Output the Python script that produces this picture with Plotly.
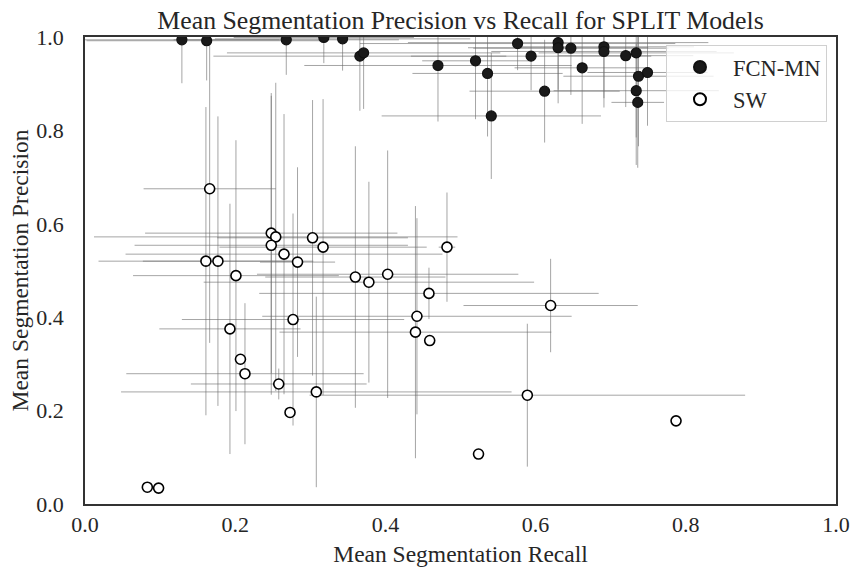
import plotly.graph_objects as go

# ---- data ----
sw_x = [0.083, 0.098, 0.166, 0.248, 0.254, 0.248, 0.303, 0.317, 0.265, 0.283,
        0.161, 0.177, 0.201, 0.360, 0.378, 0.277, 0.193, 0.207, 0.213, 0.258,
        0.308, 0.273, 0.524, 0.482, 0.403, 0.458, 0.620, 0.442, 0.440, 0.459,
        0.589, 0.787]
sw_y = [0.036, 0.034, 0.675, 0.580, 0.572, 0.554, 0.570, 0.550, 0.535, 0.518,
        0.520, 0.520, 0.489, 0.486, 0.475, 0.395, 0.375, 0.310, 0.279, 0.257,
        0.240, 0.196, 0.107, 0.550, 0.492, 0.451, 0.425, 0.402, 0.368, 0.350,
        0.233, 0.178]
sw_xerr = [0.0, 0.0, 0.088, 0.168, 0.242, 0.182, 0.127, 0.138, 0.211, 0.05,
           0.143, 0.10, 0.137, 0.12, 0.22, 0.148, 0.094, 0.0, 0.158, 0.117,
           0.26, 0.0, 0.0, 0.011, 0.174, 0.226, 0.116, 0.206, 0.181, 0.0,
           0.29, 0.0]
sw_yerr = [0.0, 0.0, 0.33, 0.30, 0.33, 0.32, 0.295, 0.317, 0.30, 0.203,
           0.33, 0.31, 0.29, 0.28, 0.215, 0.227, 0.268, 0.0, 0.151, 0.033,
           0.204, 0.0, 0.0, 0.117, 0.265, 0.055, 0.10, 0.21, 0.27, 0.0,
           0.153, 0.0]

fcn_x = [0.129, 0.162, 0.268, 0.318, 0.343, 0.366, 0.371, 0.470, 0.520, 0.536,
         0.541, 0.576, 0.594, 0.612, 0.630, 0.630, 0.647, 0.662, 0.691, 0.691,
         0.720, 0.734, 0.737, 0.749, 0.734, 0.736]
fcn_y = [0.994, 0.992, 0.994, 0.999, 0.996, 0.959, 0.966, 0.939, 0.949, 0.922,
         0.831, 0.986, 0.959, 0.884, 0.988, 0.977, 0.976, 0.934, 0.979, 0.969,
         0.960, 0.966, 0.916, 0.924, 0.885, 0.860]
fcn_xerr = [0.13, 0.16, 0.15, 0.12, 0.17, 0.195, 0.182, 0.178, 0.071, 0.10,
            0.146, 0.21, 0.16, 0.10, 0.20, 0.12, 0.13, 0.09, 0.12, 0.15,
            0.09, 0.13, 0.10, 0.08, 0.11, 0.035]
fcn_yerr = [0.093, 0.085, 0.075, 0.055, 0.068, 0.117, 0.12, 0.12, 0.125, 0.135,
            0.135, 0.057, 0.073, 0.11, 0.13, 0.09, 0.10, 0.12, 0.13, 0.10,
            0.11, 0.24, 0.15, 0.114, 0.10, 0.14]

x_ticks = [0.0, 0.2, 0.4, 0.6, 0.8, 1.0]
y_ticks = [0.0, 0.2, 0.4, 0.6, 0.8, 1.0]

FONT = "Liberation Serif, Times New Roman, serif"
ERR_COLOR = "rgba(105,105,105,0.6)"

fig = go.Figure()

# error bars first (so every marker sits above every bar)
for xs, ys, xe, ye in [(fcn_x, fcn_y, fcn_xerr, fcn_yerr), (sw_x, sw_y, sw_xerr, sw_yerr)]:
    fig.add_trace(go.Scatter(
        x=xs, y=ys, mode="markers",
        marker=dict(size=1, opacity=0),
        error_x=dict(type="data", array=xe, visible=True, thickness=1, width=0, color=ERR_COLOR),
        error_y=dict(type="data", array=ye, visible=True, thickness=1, width=0, color=ERR_COLOR),
        showlegend=False, hoverinfo="skip",
    ))

fig.add_trace(go.Scatter(
    x=fcn_x, y=fcn_y, mode="markers", name="FCN-MN",
    marker=dict(size=10, color="#1a1a1a", line=dict(color="#111111", width=1.2)),
))
fig.add_trace(go.Scatter(
    x=sw_x, y=sw_y, mode="markers", name="SW",
    marker=dict(size=10, color="white", line=dict(color="black", width=1.6)),
))

fig.update_layout(
    width=853, height=572,
    margin=dict(l=85, r=17, t=37, b=68, autoexpand=False),
    paper_bgcolor="white", plot_bgcolor="white",
    font=dict(family=FONT, color="#262626", size=22),
    title=dict(text="Mean Segmentation Precision vs Recall for SPLIT Models",
               x=0.5, xref="paper", xanchor="center",
               y=0.965, yref="container", yanchor="middle",
               font=dict(family=FONT, size=25.8, color="#262626")),
    legend=dict(x=0.988, y=0.983, xanchor="right", yanchor="top",
                bgcolor="rgba(255,255,255,0.8)", bordercolor="#d0d0d0", borderwidth=1,
                font=dict(family=FONT, size=22.5, color="#262626"),
                itemsizing="constant", itemwidth=56),
    xaxis=dict(range=[0, 1], tickvals=x_ticks, ticktext=[f"{v:.1f}" for v in x_ticks],
               showgrid=False, zeroline=False, showline=True, mirror=True,
               linecolor="#333333", linewidth=1.5, automargin=False,
               ticks="",
               tickfont=dict(size=22),
               title=dict(text="Mean Segmentation Recall", font=dict(size=23.5), standoff=9)),
    yaxis=dict(range=[0, 1], tickvals=y_ticks, ticktext=[f"{v:.1f}" for v in y_ticks],
               showgrid=False, zeroline=False, showline=True, mirror=True,
               linecolor="#333333", linewidth=1.5, automargin=False,
               ticks="outside", ticklen=15, tickcolor="rgba(0,0,0,0)",
               tickfont=dict(size=22),
               title=dict(text="Mean Segmentation Precision", font=dict(size=23.5), standoff=1)),
)

# remove the browser's default 8px body margin so the figure fills the window
fig.write_html("out.html", config={"displayModeBar": False},
               post_script="document.body.style.margin='0';")
